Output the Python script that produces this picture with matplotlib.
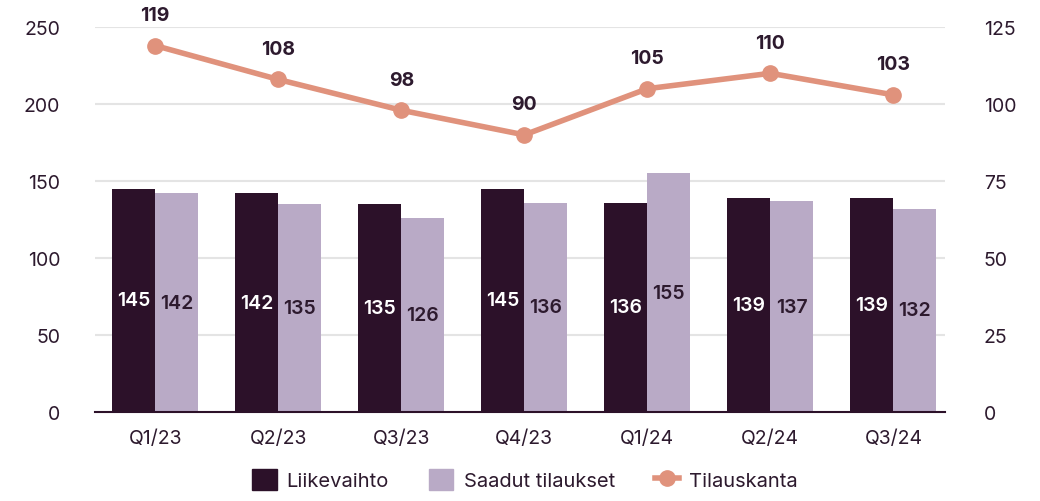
import numpy as np
import matplotlib.pyplot as plt
from matplotlib.patches import Patch
from matplotlib.lines import Line2D

quarters = ['Q1/23', 'Q2/23', 'Q3/23', 'Q4/23', 'Q1/24', 'Q2/24', 'Q3/24']
liikevaihto = [145, 142, 135, 145, 136, 139, 139]
saadut = [142, 135, 126, 136, 155, 137, 132]
tilauskanta = [119, 108, 98, 90, 105, 110, 103]

dark = '#2c1129'
light = '#b9aac6'
orange = '#e0927c'
txt = '#2d1a2e'

plt.rcParams['font.family'] = ['Inter', 'DejaVu Sans']

fig = plt.figure(figsize=(10.4, 5.02), dpi=100)
ax = fig.add_axes([0.0913, 0.1773, 0.8174, 0.7667])
ax2 = ax.twinx()

x = np.arange(len(quarters))
w = 0.35
b1 = ax.bar(x - w / 2, liikevaihto, w, color=dark, zorder=2)
b2 = ax.bar(x + w / 2, saadut, w, color=light, zorder=2)

for rect, v in zip(b1, liikevaihto):
    ax.text(rect.get_x() + rect.get_width() / 2, v / 2, str(v), ha='center', va='center',
            color='white', fontsize=14, fontweight='semibold')
for rect, v in zip(b2, saadut):
    ax.text(rect.get_x() + rect.get_width() / 2, v / 2, str(v), ha='center', va='center',
            color=txt, fontsize=14, fontweight='semibold')

ax2.plot(x, tilauskanta, color=orange, lw=4, marker='o', ms=11, zorder=3)
for xi, v in zip(x, tilauskanta):
    ax2.annotate(str(v), (xi, v), xytext=(0, 22), textcoords='offset points',
                 ha='center', va='center', color=txt, fontsize=14, fontweight='bold',
                 annotation_clip=False)

ax.set_ylim(0, 250)
ax2.set_ylim(0, 125)
ax.set_xlim(-0.49, len(quarters) - 0.58)
ax.set_yticks([0, 50, 100, 150, 200, 250])
ax2.set_yticks([0, 25, 50, 75, 100, 125])
ax.set_xticks(x)
ax.set_xticklabels(quarters)

for gy in [50, 100, 150, 200, 250]:
    ax.axhline(gy, color='#e4e4e4', lw=1.5, zorder=0)

for a in (ax, ax2):
    for s in a.spines.values():
        s.set_visible(False)
    a.tick_params(length=0, labelsize=14, labelcolor=txt)
ax.spines['bottom'].set_visible(True)
ax.spines['bottom'].set_color(dark)
ax.spines['bottom'].set_linewidth(1.5)
ax.tick_params(axis='y', pad=25)
ax.tick_params(axis='x', pad=12)
ax2.tick_params(axis='y', pad=28)

ax2.set_zorder(ax.get_zorder() + 1)
ax2.patch.set_visible(False)

handles = [Patch(color=dark, label='Liikevaihto'),
           Patch(color=light, label='Saadut tilaukset'),
           Line2D([], [], color=orange, lw=4, marker='o', ms=11, label='Tilauskanta')]
fig.legend(handles=handles, loc='lower center', bbox_to_anchor=(0.505, -0.015), ncol=3,
           frameon=False, fontsize=14.5, labelcolor=txt, handlelength=1.2, handleheight=1.2,
           columnspacing=2.0, handletextpad=0.5)

plt.savefig('out.png', dpi=100)
